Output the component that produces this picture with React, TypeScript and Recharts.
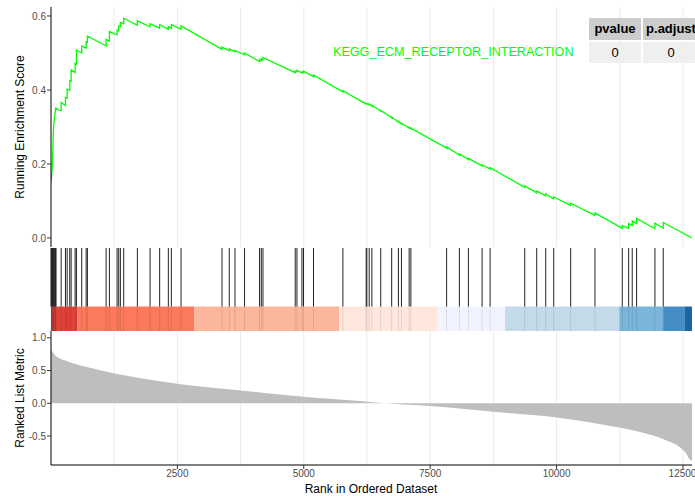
import { ComposedChart, Line, Area, XAxis, YAxis, ReferenceLine, ReferenceArea, CartesianGrid } from "recharts";

const N_GENES = 12678;
const GRID_X = [1250, 2500, 3750, 5000, 6250, 7500, 8750, 10000, 11250, 12500];
const RANK_TICKS = [2500, 5000, 7500, 10000, 12500];
const ES_TICKS = [0, 0.2, 0.4, 0.6];
const METRIC_TICKS = [-0.5, 0, 0.5, 1.0];

// running enrichment score: [rank, score]
const ES_POINTS: [number, number][] = [
  [1, 0.15], [30, 0.2], [50, 0.3], [75, 0.33], [95, 0.351],
  [182, 0.344], [202, 0.344], [202, 0.366], [287, 0.358], [287, 0.38],
  [320, 0.378], [320, 0.402], [372, 0.399], [372, 0.425], [399, 0.423], [399, 0.454],
  [478, 0.447], [478, 0.472], [504, 0.47], [504, 0.508], [609, 0.5], [609, 0.519],
  [696, 0.513], [696, 0.53], [721, 0.528], [721, 0.546],
  [1091, 0.519], [1091, 0.537], [1156, 0.532], [1156, 0.558],
  [1308, 0.549], [1308, 0.562], [1340, 0.56], [1340, 0.573], [1373, 0.571], [1373, 0.583],
  [1439, 0.579], [1439, 0.594], [1709, 0.575], [1709, 0.587], [1960, 0.571], [1960, 0.579],
  [2150, 0.567], [2150, 0.577], [2322, 0.564], [2322, 0.571], [2381, 0.567], [2381, 0.577],
  [2573, 0.564], [2573, 0.573], [3383, 0.51], [3383, 0.516], [3527, 0.506], [3527, 0.511],
  [3640, 0.503], [3640, 0.507], [3829, 0.495], [3829, 0.5], [4126, 0.477], [4126, 0.482],
  [4160, 0.479], [4160, 0.484], [4193, 0.481], [4193, 0.488], [4831, 0.447], [4831, 0.451],
  [4865, 0.449], [4865, 0.453], [4964, 0.446], [4964, 0.449], [4995, 0.447], [4995, 0.451],
  [5193, 0.436], [5193, 0.44], [5774, 0.395], [5774, 0.398], [6234, 0.362], [6234, 0.364],
  [6294, 0.36], [6294, 0.362], [6347, 0.357], [6347, 0.359], [6522, 0.343], [6522, 0.345],
  [6739, 0.325], [6739, 0.327], [6872, 0.313], [6872, 0.315], [6932, 0.308], [6932, 0.31],
  [7084, 0.297], [7084, 0.299], [7118, 0.295], [7118, 0.297], [7825, 0.243], [7825, 0.246],
  [8078, 0.224], [8078, 0.227], [8256, 0.212], [8256, 0.215], [8527, 0.195], [8527, 0.198],
  [8685, 0.186], [8685, 0.19], [9370, 0.137], [9370, 0.141], [9607, 0.122], [9607, 0.127],
  [9785, 0.114], [9785, 0.119], [9943, 0.106], [9943, 0.111], [10279, 0.088], [10279, 0.094],
  [10759, 0.061], [10759, 0.068], [11299, 0.026], [11299, 0.034], [11425, 0.026], [11425, 0.039],
  [11496, 0.034], [11496, 0.046], [11583, 0.039], [11583, 0.053], [11945, 0.025], [11945, 0.04],
  [12109, 0.027], [12109, 0.042], [12678, 0.0],
];

// positions of the gene set members in the ranked list
const HIT_RANKS = [
  2, 9, 18, 27, 35, 46, 58, 66, 79, 88, 101,
  202, 287, 320, 372, 399, 478, 504, 609, 696, 721,
  1091, 1156, 1308, 1340, 1373, 1439, 1709, 1960, 2150, 2322, 2381, 2573,
  3383, 3527, 3640, 3829, 4126, 4160, 4193, 4831, 4865, 4964, 4995, 5193, 5774,
  6234, 6248, 6294, 6347, 6522, 6739, 6872, 6932, 7084, 7118, 7825, 8078, 8256,
  8527, 8685, 9370, 9607, 9785, 9943, 10279, 10759, 11299, 11425, 11496, 11583,
  11945, 12109,
];

// ranked list metric: [rank, value]
const METRIC_POINTS: [number, number][] = [
  [1, 0.82], [89, 0.73], [320, 0.644], [648, 0.567], [978, 0.505], [1308, 0.449],
  [1636, 0.402], [1966, 0.36], [2494, 0.299], [2954, 0.257], [3612, 0.206], [4272, 0.155],
  [4995, 0.102], [5589, 0.067], [5919, 0.045], [6313, 0.02], [6610, 0], [7500, -0.042],
  [8750, -0.13], [10002, -0.217], [10990, -0.336], [11648, -0.44], [12175, -0.568],
  [12438, -0.67], [12570, -0.774], [12622, -0.85], [12678, -0.87],
];

// colour bar under the hits
const BAR_BREAKS = [1, 518, 2836, 5701, 7637, 8981, 11240, 12109, 12538, 12678];
const BAR_COLORS = ["#DE2D26", "#FB6A4A", "#FCAE91", "#FEE5D9", "#EFF3FF", "#BDD7E7", "#6BAED6", "#3182BD", "#08519C"];
const BAR_TOP = 0.295;

const TABLE_HEAD = ["pvalue", "p.adjust"];
const TABLE_ROW = ["0", "0"];

const GRID = "#EBEBEB";
const TICK = { fontSize: 10, fill: "#4D4D4D" };

const esData = ES_POINTS.map(([rank, es]) => ({ rank, es }));
const metricData = METRIC_POINTS.map(([rank, metric]) => ({ rank, metric }));
const hitData = HIT_RANKS.map((rank) => ({ rank, top: 1 }));

function VTitle({ text, x, y }: { text: string; x: number; y: number }) {
  return (
    <div
      style={{
        position: "absolute",
        left: x,
        top: y,
        transform: "translate(-50%, -50%) rotate(-90deg)",
        whiteSpace: "nowrap",
        fontSize: 12,
        color: "#000",
      }}
    >
      {text}
    </div>
  );
}

export default function App() {
  return (
    <div
      style={{
        position: "absolute",
        left: 0,
        top: 0,
        width: 695,
        height: 496,
        overflow: "hidden",
        background: "#fff",
        fontFamily: "'Liberation Sans', Arial, sans-serif",
      }}
    >
      {/* running enrichment score */}
      <div style={{ position: "absolute", left: 0, top: 0 }}>
        <ComposedChart width={695} height={248} data={esData} margin={{ top: 7, right: 3, left: 0, bottom: 1 }}>
          <CartesianGrid horizontal={false} verticalValues={GRID_X} stroke={GRID} />
          <XAxis type="number" dataKey="rank" domain={[1, N_GENES]} hide allowDataOverflow />
          <YAxis
            type="number"
            domain={[-0.0243, 0.6243]}
            ticks={ES_TICKS}
            tickFormatter={(v) => v.toFixed(1)}
            width={51}
            tick={TICK}
            tickSize={4}
            tickMargin={1}
            axisLine={{ stroke: "#000" }}
            tickLine={{ stroke: "#333" }}
            allowDataOverflow
          />
          <Line dataKey="es" type="linear" stroke="#00FF00" strokeWidth={1.3} dot={false} isAnimationActive={false} />
        </ComposedChart>
      </div>

      {/* hits and colour bar */}
      <div style={{ position: "absolute", left: 0, top: 248 }}>
        <ComposedChart width={695} height={83} data={hitData} margin={{ top: 0, right: 3, left: 51, bottom: 0 }}>
          <XAxis type="number" dataKey="rank" domain={[1, N_GENES]} hide allowDataOverflow />
          <YAxis type="number" domain={[0, 1]} hide />
          <Line dataKey="top" stroke="none" dot={false} activeDot={false} isAnimationActive={false} />
          {BAR_COLORS.map((c, i) => (
            <ReferenceArea
              key={c}
              x1={BAR_BREAKS[i]}
              x2={BAR_BREAKS[i + 1]}
              y1={0}
              y2={BAR_TOP}
              fill={c}
              fillOpacity={0.9}
              stroke="none"
            />
          ))}
          {HIT_RANKS.map((r) => (
            <ReferenceLine
              key={r}
              segment={[{ x: r, y: BAR_TOP }, { x: r, y: 1 }]}
              stroke="#222"
              strokeWidth={1}
            />
          ))}
          {HIT_RANKS.map((r) => (
            <ReferenceLine
              key={"b" + r}
              segment={[{ x: r, y: 0 }, { x: r, y: BAR_TOP }]}
              stroke="#000"
              strokeOpacity={0.1}
              strokeWidth={1}
            />
          ))}
        </ComposedChart>
      </div>

      {/* ranked list metric */}
      <div style={{ position: "absolute", left: 0, top: 331 }}>
        <ComposedChart width={695} height={165} data={metricData} margin={{ top: 0, right: 3, left: 0, bottom: 0 }}>
          <CartesianGrid horizontal={false} verticalValues={GRID_X} stroke={GRID} />
          <XAxis
            type="number"
            dataKey="rank"
            domain={[1, N_GENES]}
            ticks={RANK_TICKS}
            height={31}
            tick={TICK}
            tickSize={4}
            tickMargin={1}
            axisLine={{ stroke: "#000" }}
            tickLine={{ stroke: "#333" }}
            allowDataOverflow
          />
          <YAxis
            type="number"
            domain={[-0.942, 1.104]}
            ticks={METRIC_TICKS}
            tickFormatter={(v) => v.toFixed(1)}
            width={51}
            tick={TICK}
            tickSize={4}
            tickMargin={1}
            axisLine={{ stroke: "#000" }}
            tickLine={{ stroke: "#333" }}
            allowDataOverflow
          />
          <Area
            dataKey="metric"
            type="monotone"
            baseValue={0}
            fill="#BEBEBE"
            fillOpacity={1}
            stroke="none"
            isAnimationActive={false}
          />
        </ComposedChart>
      </div>

      <VTitle text="Running Enrichment Score" x={20} y={127} />
      <VTitle text="Ranked List Metric" x={20} y={398} />
      <div style={{ position: "absolute", left: 371, top: 482, transform: "translateX(-50%)", fontSize: 12, whiteSpace: "nowrap" }}>
        Rank in Ordered Dataset
      </div>

      <div style={{ position: "absolute", left: 333, top: 45, fontSize: 12.6, color: "#00FF00", whiteSpace: "nowrap" }}>
        KEGG_ECM_RECEPTOR_INTERACTION
      </div>

      {/* p-value table */}
      <div style={{ position: "absolute", left: 589, top: 18, display: "grid", gridTemplateColumns: "52px 57px", gap: 1.5 }}>
        {TABLE_HEAD.map((h) => (
          <div key={h} style={{ background: "#CDCDCD", height: 22, lineHeight: "22px", textAlign: "center", fontWeight: "bold", fontSize: 13, color: "#000" }}>
            {h}
          </div>
        ))}
        {TABLE_ROW.map((v, i) => (
          <div key={i} style={{ background: "#EFEFEF", height: 21, lineHeight: "21px", textAlign: "center", fontSize: 13, color: "#000" }}>
            {v}
          </div>
        ))}
      </div>
    </div>
  );
}
